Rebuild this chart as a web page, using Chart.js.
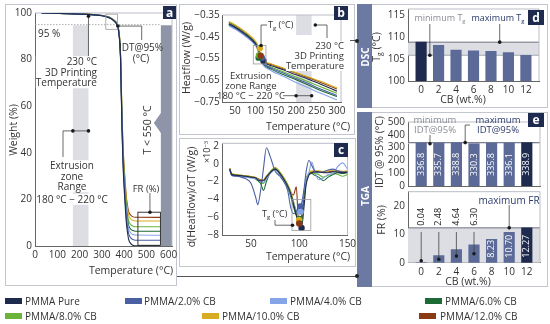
<!DOCTYPE html>
<html>
<head>
<meta charset="utf-8">
<title>PMMA / CB thermal analysis</title>
<script src="https://cdn.jsdelivr.net/npm/chart.js@4.4.1/dist/chart.umd.min.js"></script>
<style>
  body { margin:0; width:550px; height:324px; position:relative; overflow:hidden; background:#fff; font-family:'Open Sans', sans-serif; color:#333; }
  canvas { position:absolute; }
  .frame { position:absolute; border:1px solid #c2c6ce; box-sizing:border-box; }
  .tag { position:absolute; background:#1f2b4e; color:#fff; font-weight:bold; font-size:12px; line-height:13px; text-align:center; }
  .side { position:absolute; background:#6b79a3; }
  .note { position:absolute; white-space:nowrap; line-height:1.05; }
  sub { font-size:0.65em; vertical-align:-0.25em; line-height:0; }
  sup { font-size:0.65em; vertical-align:0.45em; line-height:0; }
  .lg { position:absolute; font-size:10px; white-space:nowrap; line-height:1; transform:translateY(-50%); }
  .sw { position:absolute; width:17px; height:6px; }
  .hl { position:absolute; height:1px; background:#555; }
  .pt { position:absolute; width:4px; height:4px; border-radius:2px; background:#222; }
</style>
</head>
<body>
<div class="frame" style="left:5px;top:4px;width:172px;height:282px"></div>
<div class="frame" style="left:179px;top:4px;width:176px;height:131px"></div>
<div class="frame" style="left:179px;top:138px;width:177px;height:129px"></div>
<div class="frame" style="left:357px;top:4px;width:191px;height:104px"></div>
<div class="frame" style="left:357px;top:112px;width:191px;height:175px"></div>
<div class="side" style="left:357px;top:4px;width:15px;height:104px"></div>
<div class="side" style="left:357px;top:112px;width:15px;height:175px"></div>
<div class="hl" style="left:350px;top:40px;width:7px"></div>
<div class="pt" style="left:355px;top:39px"></div>
<div class="hl" style="left:177px;top:276px;width:180px"></div>
<div class="pt" style="left:355px;top:274px"></div>

<canvas id="ca" width="185" height="282" style="left:5px;top:4px"></canvas>
<canvas id="cb" width="186" height="131" style="left:179px;top:4px"></canvas>
<canvas id="cc" width="186" height="137" style="left:179px;top:130px"></canvas>
<canvas id="cd" width="176" height="108" style="left:372px;top:0px"></canvas>
<canvas id="ce1" width="176" height="86" style="left:372px;top:110px"></canvas>
<canvas id="ce2" width="176" height="107" style="left:372px;top:180px"></canvas>

<div class="tag" style="left:163px;top:6px;width:13px;height:13px">a</div>
<div class="tag" style="left:334px;top:6px;width:14px;height:14px">b</div>
<div class="tag" style="left:334px;top:143px;width:14px;height:14px">c</div>
<div class="tag" style="left:528px;top:10px;width:16px;height:15px;line-height:15px">d</div>
<div class="tag" style="left:528px;top:113px;width:16px;height:14px;line-height:14px">e</div>

<script>
// ---- data ----
const series = ['PMMA Pure', 'PMMA/2.0% CB', 'PMMA/4.0% CB', 'PMMA/6.0% CB', 'PMMA/8.0% CB', 'PMMA/10.0% CB', 'PMMA/12.0% CB'];
const colors = ['#1f2b4e', '#4b60a3', '#86a4e8', '#1c6a36', '#6ab43c', '#d8ac22', '#8b3b13'];

// (a) TGA weight loss
const tgaTemp = [30, 150, 250, 300, 320, 340, 355, 367, 378, 384, 388, 392, 396, 400, 405, 410, 415, 420, 430, 440, 450, 562];
const tgaPure = [100, 99.7, 99.3, 98.8, 98.4, 97.6, 96.5, 95.0, 90.0, 80.0, 62.0, 45.0, 33.0, 25.0, 17.0, 10.0, 6.0, 3.0, 1.0, 0.3, 0.05, 0.04];
const tga2 = [100, 99.7, 99.3, 98.8, 98.4, 97.7, 96.6, 95.1, 90.3, 80.5, 62.9, 46.4, 34.7, 26.9, 19.1, 12.3, 8.4, 5.4, 3.5, 2.8, 2.5, 2.48];
const tga4 = [100, 99.7, 99.3, 98.9, 98.5, 97.7, 96.7, 95.2, 90.5, 80.9, 63.8, 47.6, 36.1, 28.5, 20.9, 14.2, 10.4, 7.5, 5.6, 4.9, 4.7, 4.64];
const tga6 = [100, 99.7, 99.3, 98.9, 98.5, 97.8, 96.7, 95.3, 90.6, 81.3, 64.4, 48.5, 37.2, 29.7, 22.2, 15.7, 11.9, 9.1, 7.2, 6.6, 6.35, 6.30];
const tga8 = [100, 99.7, 99.4, 98.9, 98.5, 97.8, 96.8, 95.4, 90.8, 81.7, 65.1, 49.5, 38.5, 31.2, 23.8, 17.4, 13.7, 11.0, 9.2, 8.5, 8.28, 8.23];
const tga10 = [100, 99.7, 99.4, 98.9, 98.6, 97.9, 96.9, 95.5, 91.1, 82.1, 66.1, 50.9, 40.2, 33.0, 25.9, 19.6, 16.1, 13.4, 11.6, 11.0, 10.74, 10.70];
const tga12 = [100, 99.7, 99.4, 99.0, 98.6, 97.9, 96.9, 95.6, 91.2, 82.5, 66.7, 51.8, 41.2, 34.2, 27.2, 21.0, 17.5, 14.9, 13.2, 12.5, 12.31, 12.27];

// (b) DSC heat flow
const dscTemp = [35, 50, 70, 90, 100, 105, 110, 115, 120, 140, 170, 200, 230, 260, 300];
const dscPure = [-0.39, -0.405, -0.43, -0.46, -0.48, -0.497, -0.525, -0.553, -0.567, -0.583, -0.603, -0.625, -0.645, -0.668, -0.70];
const dsc2 = [-0.395, -0.41, -0.435, -0.465, -0.485, -0.502, -0.532, -0.56, -0.575, -0.595, -0.618, -0.642, -0.665, -0.69, -0.72];
const dsc4 = [-0.40, -0.415, -0.44, -0.47, -0.49, -0.507, -0.537, -0.565, -0.583, -0.607, -0.633, -0.66, -0.685, -0.71, -0.74];
const dsc6 = [-0.392, -0.407, -0.433, -0.462, -0.483, -0.50, -0.53, -0.56, -0.578, -0.60, -0.625, -0.648, -0.672, -0.697, -0.725];
const dsc8 = [-0.386, -0.401, -0.428, -0.458, -0.478, -0.495, -0.525, -0.556, -0.572, -0.59, -0.612, -0.635, -0.657, -0.68, -0.71];
const dsc10 = [-0.38, -0.395, -0.42, -0.45, -0.47, -0.485, -0.515, -0.545, -0.56, -0.575, -0.595, -0.615, -0.635, -0.655, -0.685];
const dsc12 = [-0.383, -0.398, -0.423, -0.455, -0.475, -0.49, -0.52, -0.55, -0.563, -0.578, -0.598, -0.618, -0.638, -0.66, -0.69];
const dscTgT = [120, 116, 110, 108, 109, 111, 113];
const dscTgHF = [-0.561, -0.546, -0.54, -0.546, -0.535, -0.503, -0.537];

// (c) derivative of heat flow (x10^-3)
const dTemp = [28, 30, 35, 40, 45, 50, 55, 57, 60, 63, 66, 70, 75, 80, 85, 88, 91, 94, 97, 99, 101, 103, 105, 107, 110, 113, 116, 120, 125, 130, 135, 140, 145, 150];
const dPure = [-0.6, -1.2, -1.3, -1.35, -1.4, -1.5, -1.6, -1.8, -1.9, -1.9, -1.5, -1.0, -0.6, -1.1, -1.9, -2.5, -3.3, -4.5, -5.8, -6.7, -7.1, -6.8, -4.8, -2.5, -1.3, -1.0, -0.95, -0.9, -1.0, -1.0, -0.9, -0.95, -1.0, -0.9];
const d2 = [-0.6, -1.3, -1.4, -1.5, -1.7, -2.2, -3.8, -4.6, -3.0, -0.5, 1.8, 0.8, -0.8, -1.4, -2.2, -3.0, -4.8, -5.6, -5.4, -5.0, -4.8, -4.2, -2.8, -1.0, 0.4, -0.2, -0.8, -1.0, -0.9, -0.7, -0.6, -0.8, -0.9, -1.0];
const d4 = [-0.7, -1.3, -1.4, -1.45, -1.5, -1.6, -1.7, -1.8, -2.0, -2.1, -1.7, -1.1, -0.7, -1.2, -2.0, -2.6, -3.4, -4.4, -5.2, -5.5, -5.4, -4.5, -3.0, -1.8, -1.0, 0.2, -0.8, -1.8, -1.6, -1.2, -1.1, -0.3, 0.1, -0.6];
const d6 = [-0.6, -1.2, -1.3, -1.35, -1.45, -1.55, -1.7, -1.9, -2.2, -3.0, -2.0, -1.0, -0.6, -1.2, -2.0, -2.7, -3.6, -4.8, -5.8, -6.2, -6.3, -5.6, -3.5, -2.0, -1.2, -1.1, -1.3, -1.5, -1.9, -1.5, -1.2, -1.0, -1.1, -1.0];
const d8 = [-0.6, -1.2, -1.3, -1.35, -1.4, -1.5, -1.6, -1.75, -2.0, -2.2, -1.6, -0.9, -0.5, -1.0, -1.8, -2.4, -3.2, -4.3, -5.6, -6.3, -6.4, -5.5, -3.2, -1.8, -1.1, -1.0, -1.1, -1.2, -1.5, -1.3, -1.1, -1.2, -1.4, -1.2];
const d10 = [-0.5, -1.1, -1.2, -1.3, -1.35, -1.45, -1.55, -1.7, -1.85, -1.8, -1.4, -0.9, -0.4, -0.9, -1.7, -2.3, -3.0, -4.2, -5.4, -6.1, -6.3, -5.8, -3.8, -1.9, -1.0, -0.8, -0.75, -0.8, -0.85, -0.8, -0.75, -0.8, -0.85, -0.8];
const d12 = [-0.5, -1.1, -1.25, -1.3, -1.35, -1.45, -1.55, -1.65, -1.8, -1.8, -1.4, -0.9, -0.5, -1.0, -1.8, -2.4, -3.2, -3.5, -2.6, -6.2, -6.7, -6.0, -4.0, -2.0, -1.1, -0.9, -0.85, -0.9, -0.95, -0.9, -0.85, -0.9, -0.95, -0.9];
const dTgT = [102.4, 101, 101.5, 100.5, 100, 99.8, 100];
const dTgV = [-7.2, -4.8, -5.4, -6.2, -6.4, -6.3, -6.7];

// (d) and (e) bars
const cbWt = [0, 2, 4, 6, 8, 10, 12];
const tgDsc = [108.9, 108.2, 107.1, 106.9, 106.8, 106.5, 105.9];
const idt95 = [336.8, 335.7, 338.8, 330.3, 335.8, 336.1, 338.9];
const frRes = [0.04, 2.48, 4.64, 6.30, 8.23, 10.70, 12.27];

// tick labels
const aTicksX = [0, 100, 200, 300, 400, 500, 600];
const aTicksY = [0, 20, 40, 60, 80, 100];
const bTicksX = [50, 100, 150, 200, 250, 300];
const bTicksY = [-0.75, -0.65, -0.55, -0.45, -0.35];
const cTicksX = [50, 100, 150];
const cTicksY = [-8, -6, -4, -2, 0, 2];
const dTicksY = [100, 105, 110, 115];
const idtTicksY = [0, 100, 200, 300, 400, 500];
const frTicksY = [0, 10, 20];

// ---- helpers ----
Chart.defaults.font.family = "'Open Sans', sans-serif";
Chart.defaults.font.size = 10;
Chart.defaults.color = '#333';

const NAVY = '#1f2b4e', SLATE = '#5b6a97', BAND = '#dcdee4';
const minus = v => (v < 0 ? '\u2212' : '') + Math.abs(v);

function scale(min, max, ticks, fit, fmt, show) {
  return {
    type: 'linear', min: min, max: max, offset: false,
    grid: { display: false, drawTicks: false },
    border: { color: '#666', width: 1 },
    ticks: { display: show !== false, padding: 3, autoSkip: false, maxRotation: 0, minRotation: 0,
             callback: fmt || (v => v) },
    afterBuildTicks: s => { s.ticks = ticks.map(v => ({ value: v })); },
    afterFit: s => { if (s.isHorizontal()) s.height = fit; else s.width = fit; }
  };
}
function seg(ctx, pts, color, w, dash) {
  ctx.save();
  ctx.beginPath();
  ctx.strokeStyle = color || '#444';
  ctx.lineWidth = w || 0.8;
  ctx.setLineDash(dash || []);
  pts.forEach((p, i) => i ? ctx.lineTo(p[0], p[1]) : ctx.moveTo(p[0], p[1]));
  ctx.stroke();
  ctx.restore();
}
function dot(ctx, x, y, r, color) {
  ctx.beginPath();
  ctx.arc(x, y, r || 1.8, 0, Math.PI * 2);
  ctx.fillStyle = color || '#1a1a1a';
  ctx.fill();
}
function px(c) {
  return { X: v => c.scales.x.getPixelForValue(v), Y: v => c.scales.y.getPixelForValue(v), a: c.chartArea, ctx: c.ctx };
}
function boxTR(c) {
  const a = c.chartArea;
  seg(c.ctx, [[a.left, a.top], [a.right, a.top], [a.right, a.bottom]], '#b9bdc6', 1);
}
function lineSet(xs, ys, i) {
  return { data: xs.map((t, j) => ({ x: t, y: ys[j] })), borderColor: colors[i], borderWidth: 1.1,
           pointRadius: 0, cubicInterpolationMode: 'monotone' };
}
function dotSet(xs, ys) {
  return { type: 'scatter', data: xs.map((t, j) => ({ x: t, y: ys[j] })), pointBackgroundColor: colors,
           pointBorderWidth: 0, pointRadius: 3.2, showLine: false };
}
function barLabels(c, vals, idx, fmt, mode, off, color) {
  const meta = c.getDatasetMeta(0), ctx = c.ctx;
  ctx.save();
  ctx.fillStyle = color || '#fff';
  ctx.font = "9px 'Open Sans'";
  ctx.textBaseline = 'middle';
  idx.forEach(i => {
    const b = meta.data[i];
    ctx.save();
    ctx.translate(b.x, mode === 'center' ? (b.y + b.base) / 2 : b.base - off);
    ctx.rotate(-Math.PI / 2);
    ctx.textAlign = mode === 'center' ? 'center' : 'left';
    ctx.fillText(fmt(vals[i]), 0, 0);
    ctx.restore();
  });
  ctx.restore();
}
const base = { responsive: false, animation: false, events: [], plugins: { legend: { display: false }, tooltip: { enabled: false } } };

// ---- (a) TGA ----
const aNotes = {
  id: 'aNotes',
  beforeDatasetsDraw(c) {
    const { X, Y, a, ctx } = px(c), oy = 4;
    ctx.save();
    ctx.fillStyle = BAND;
    ctx.fillRect(X(170), Y(94.7), X(240) - X(170), Y(0) - Y(94.7));
    const bx = X(565);
    ctx.fillStyle = '#8e95a8';
    ctx.beginPath();
    ctx.moveTo(bx, Y(94.7)); ctx.lineTo(a.right, Y(94.7)); ctx.lineTo(a.right, a.bottom); ctx.lineTo(bx, a.bottom);
    ctx.lineTo(bx, 133 - oy); ctx.lineTo(bx - 7, 123 - oy); ctx.lineTo(bx, 113 - oy);
    ctx.closePath(); ctx.fill();
    ctx.restore();
    boxTR(c);
    seg(ctx, [[X(0), Y(95)], [X(565), Y(95)]], '#9a9a9a', 0.8, [1.5, 1.5]);
  },
  afterDatasetsDraw(c) {
    const { X, Y, ctx } = px(c), ox = 5, oy = 4;
    ctx.save();
    ctx.strokeStyle = '#9a9a9a'; ctx.lineWidth = 0.8;
    ctx.strokeRect(X(318), Y(99.5), X(370) - X(318), Y(93) - Y(99.5));
    ctx.restore();
    seg(ctx, [[X(372), Y(94.4)], [141.7 - ox, Y(94.4)], [141.7 - ox, 40 - oy]]);
    dot(ctx, X(372), Y(94.4));
    seg(ctx, [[X(240), Y(98.6)], [X(240), 56 - oy]]);
    dot(ctx, X(240), Y(98.6));
    const ey = Y(49.4);
    seg(ctx, [[63 - ox, 157 - oy], [63 - ox, ey], [X(240), ey]]);
    dot(ctx, X(170), ey); dot(ctx, X(240), ey);
    ctx.save();
    ctx.strokeStyle = '#222'; ctx.lineWidth = 0.9;
    ctx.strokeRect(X(462), Y(14.5), X(563) - X(462), Y(0.3) - Y(14.5));
    ctx.restore();
    seg(ctx, [[X(516), 193 - oy], [X(516), Y(14.5)]]);
    dot(ctx, X(516), Y(14.5));
  }
};
new Chart(document.getElementById('ca'), {
  type: 'line',
  data: { datasets: [tgaPure, tga2, tga4, tga6, tga8, tga10, tga12].map((w, i) => lineSet(tgaTemp, w, i)) },
  options: Object.assign({}, base, {
    layout: { padding: { left: 0, right: 18, top: 8.7, bottom: 0 } },
    scales: { x: scale(0, 615, aTicksX, 40), y: scale(0, 100, aTicksY, 30) }
  }),
  plugins: [aNotes]
});

// ---- (b) DSC heat flow ----
const bNotes = {
  id: 'bNotes',
  beforeDatasetsDraw(c) {
    const { X, a, ctx } = px(c), oy = 4;
    ctx.save();
    ctx.fillStyle = BAND;
    ctx.fillRect(X(200), a.top, X(238) - X(200), 35 - oy - a.top);
    ctx.fillRect(X(200), 70 - oy, X(238) - X(200), a.bottom - (70 - oy));
    ctx.restore();
    boxTR(c);
  },
  afterDatasetsDraw(c) {
    const { X, Y, ctx } = px(c), ox = 179, oy = 4;
    ctx.save();
    ctx.strokeStyle = '#9a9a9a'; ctx.lineWidth = 0.8;
    ctx.strokeRect(X(95), Y(-0.49), X(126) - X(95), Y(-0.575) - Y(-0.49));
    ctx.restore();
    seg(ctx, [[X(114), Y(-0.49)], [X(114), 25 - oy], [267 - ox, 25 - oy]]);
    dot(ctx, X(114), Y(-0.49));
    seg(ctx, [[X(247), 25 - oy], [327 - ox, 25 - oy], [327 - ox, 38 - oy]]);
    dot(ctx, X(247), 25 - oy);
    seg(ctx, [[283 - ox, 95.7 - oy], [X(238), 95.7 - oy]]);
    dot(ctx, X(200), 95.7 - oy); dot(ctx, X(238), 95.7 - oy);
  }
};
new Chart(document.getElementById('cb'), {
  type: 'line',
  data: { datasets: [dotSet(dscTgT, dscTgHF)].concat([dscPure, dsc2, dsc4, dsc6, dsc8, dsc10, dsc12].map((v, i) => lineSet(dscTemp, v, i))) },
  options: Object.assign({}, base, {
    layout: { padding: { left: 0, right: 24, top: 11, bottom: 0 } },
    scales: { x: scale(20, 310, bTicksX, 33), y: scale(-0.75, -0.35, bTicksY, 43.7, v => (v < 0 ? '\u2212' : '') + Math.abs(v).toFixed(2)) }
  }),
  plugins: [bNotes]
});

// ---- (c) derivative ----
const cNotes = {
  id: 'cNotes',
  beforeDatasetsDraw(c) { boxTR(c); },
  afterDatasetsDraw(c) {
    const { X, Y, ctx } = px(c), ox = 179, oy = 130;
    ctx.save();
    ctx.strokeStyle = '#9a9a9a'; ctx.lineWidth = 0.8;
    ctx.strokeRect(X(92.5), Y(-4.0), X(112) - X(92.5), Y(-7.5) - Y(-4.0));
    ctx.restore();
    seg(ctx, [[X(93), Y(-6.9)], [275 - ox, Y(-6.9)], [275 - ox, 220 - oy]]);
    dot(ctx, X(93), Y(-6.9));
  }
};
new Chart(document.getElementById('cc'), {
  type: 'line',
  data: { datasets: [dotSet(dTgT, dTgV)].concat([dPure, d2, d4, d6, d8, d10, d12].map((v, i) => lineSet(dTemp, v, i))) },
  options: Object.assign({}, base, {
    layout: { padding: { left: 0, right: 17.5, top: 13.3, bottom: 0 } },
    scales: { x: scale(20, 150, cTicksX, 32), y: scale(-8, 2.3, cTicksY, 43, minus) }
  }),
  plugins: [cNotes]
});

// ---- bar panels ----
function hiColors(vals) {
  const m = vals.indexOf(Math.max.apply(null, vals));
  return vals.map((v, i) => i === m ? NAVY : SLATE);
}
function barSet(vals) {
  return { data: cbWt.map((w, i) => ({ x: w, y: vals[i] })), backgroundColor: hiColors(vals), barThickness: 10.5 };
}
function bandUnder(lo, hi, edgeLo) {
  return {
    id: 'band',
    beforeDatasetsDraw(c) {
      const { Y, a, ctx } = px(c);
      ctx.save();
      ctx.fillStyle = BAND;
      ctx.fillRect(a.left, Y(hi), a.width, Y(lo) - Y(hi));
      ctx.restore();
      seg(ctx, [[a.left, Y(hi)], [a.right, Y(hi)]], '#6f7380', 1);
      if (edgeLo) seg(ctx, [[a.left, Y(lo)], [a.right, Y(lo)]], '#a5a8b0', 1);
      boxTR(c);
    }
  };
}

// (d) Tg
new Chart(document.getElementById('cd'), {
  type: 'bar',
  data: { datasets: [barSet(tgDsc)] },
  options: Object.assign({}, base, {
    layout: { padding: { left: 0, right: 9, top: 8.3, bottom: 0 } },
    scales: { x: scale(-1.5, 13.5, cbWt, 27), y: scale(100, 116.5, dTicksY, 36) }
  }),
  plugins: [bandUnder(Math.min.apply(null, tgDsc), Math.max.apply(null, tgDsc), true), {
    id: 'dNotes',
    afterDatasetsDraw(c) {
      const { X, Y, ctx } = px(c);
      barLabels(c, tgDsc, [0, 1, 2, 3, 4, 5, 6], v => v.toFixed(1), 'bottom', 4);
      seg(ctx, [[X(1), Y(105.9)], [X(1), 24]]); dot(ctx, X(1), Y(105.9));
      seg(ctx, [[X(9), Y(108.9)], [X(9), 24]]); dot(ctx, X(9), Y(108.9));
    }
  }]
});

// (e) IDT@95%
new Chart(document.getElementById('ce1'), {
  type: 'bar',
  data: { datasets: [barSet(idt95)] },
  options: Object.assign({}, base, {
    layout: { padding: { left: 0, right: 8, top: 12, bottom: 0 } },
    scales: { x: scale(-1.5, 13.5, cbWt, 10, null, false), y: scale(0, 500, idtTicksY, 36) }
  }),
  plugins: [bandUnder(Math.min.apply(null, idt95), Math.max.apply(null, idt95), false), {
    id: 'e1Notes',
    afterDatasetsDraw(c) {
      const { X, Y, ctx } = px(c), ox = 372, oy = 110;
      barLabels(c, idt95, [0, 1, 2, 3, 4, 5, 6], v => v.toFixed(1), 'center', 0);
      seg(ctx, [[X(1), Y(330.3)], [X(1), 135 - oy]]); dot(ctx, X(1), Y(330.3));
      seg(ctx, [[X(5), Y(338.9)], [X(5), 125 - oy], [470 - ox, 125 - oy]]); dot(ctx, X(5), Y(338.9));
    }
  }]
});

// (e) FR
new Chart(document.getElementById('ce2'), {
  type: 'bar',
  data: { datasets: [barSet(frRes)] },
  options: Object.assign({}, base, {
    layout: { padding: { left: 0, right: 8, top: 11.7, bottom: 0 } },
    scales: { x: scale(-1.5, 13.5, cbWt, 24.3), y: scale(0, 25, frTicksY, 36) }
  }),
  plugins: [bandUnder(0, Math.max.apply(null, frRes), false), {
    id: 'e2Notes',
    afterDatasetsDraw(c) {
      const { X, Y, ctx } = px(c);
      barLabels(c, frRes, [4, 5, 6], v => v.toFixed(2), 'bottom', 5);
      ctx.save();
      ctx.fillStyle = '#222';
      ctx.font = "9px 'Open Sans'";
      ctx.textBaseline = 'middle';
      ctx.textAlign = 'right';
      [0, 1, 2, 3].forEach(i => {
        const x = X(cbWt[i]), yd = Y(Math.max(frRes[i] / 2, 0.7));
        seg(ctx, [[x, yd], [x, Y(10.8)]]);
        dot(ctx, x, yd);
        ctx.save(); ctx.translate(x, Y(19.3)); ctx.rotate(-Math.PI / 2);
        ctx.fillText(frRes[i].toFixed(2), 0, 0); ctx.restore();
      });
      ctx.restore();
      seg(ctx, [[X(10), Y(12.27)], [X(10), 205 - 180]]); dot(ctx, X(10), Y(12.27));
    }
  }]
});

// ---- text annotations (page coordinates) ----
// [html, x, y, size, anchor, color, rotated, white background]
const notes = [
  ['Weight (%)', 14, 130, 10.5, 'c', '#333', 1],
  ['Temperature (°C)', 131, 271, 10.5, 'c'],
  ['95 %', 38, 33, 10, 'l'],
  ['230 °C<br>3D Printing<br>Temperature', 97, 72, 10, 'r', '#333', 0, 1],
  ['Extrusion<br>zone<br>Range', 72, 176, 10, 'c', '#333', 0, 1],
  ['180 °C \u2212 220 °C', 72, 199, 10, 'c', '#333', 0, 1],
  ['IDT@95%<br>(°C)', 141, 52, 10, 'c'],
  ['FR (%)', 146, 188.5, 9.5, 'c'],
  ['T &lt; 550 °C', 147.5, 130, 10.5, 'c', '#333', 1],
  ['Heatflow (W/g)', 187, 58, 10.5, 'c', '#333', 1],
  ['Temperature (°C)', 308, 127, 10.5, 'c'],
  ['T<sub>g</sub> (°C)', 268, 25, 9, 'l'],
  ['230 °C<br>3D Printing<br>Temperature', 344, 56, 9.5, 'r', '#333', 0, 1],
  ['Extrusion<br>zone Range<br>180 °C \u2212 220 °C', 251, 86, 9.5, 'c'],
  ['d(Heatflow)/dT (W/g)', 192, 197, 10.5, 'c', '#333', 1],
  ['×10<sup>\u22123</sup>', 206.5, 152, 9, 'c', '#333', 1],
  ['Temperature (°C)', 308, 257, 10.5, 'c'],
  ['T<sub>g</sub> (°C)', 262, 214, 9, 'l'],
  ['DSC', 364.5, 57, 10, 'c', '#fff', 1],
  ['TGA', 364.5, 196, 10, 'c', '#fff', 1],
  ['T<sub>g</sub> (°C)', 377, 47, 10.5, 'c', '#333', 1],
  ['minimum T<sub>g</sub>', 440, 18, 9, 'c', '#8a8d96'],
  ['maximum T<sub>g</sub>', 498, 18, 9, 'c', '#2b3a6b'],
  ['CB (wt.%)', 463, 100, 10.5, 'c'],
  ['IDT @ 95% (°C)', 380, 152, 10.5, 'c', '#333', 1],
  ['minimum<br>IDT@95%', 435, 125, 9.5, 'c', '#8a8d96'],
  ['maximum<br>IDT@95%', 498, 125, 9.5, 'c', '#2b3a6b'],
  ['FR (%)', 381.5, 220, 10.5, 'c', '#333', 1],
  ['maximum FR', 509, 200, 10, 'c', '#2b3a6b'],
  ['CB (wt.%)', 468, 282, 10.5, 'c']
];
notes.forEach(n => {
  const d = document.createElement('div');
  d.className = 'note';
  d.innerHTML = n[0];
  d.style.left = n[1] + 'px';
  d.style.top = n[2] + 'px';
  d.style.fontSize = n[3] + 'px';
  d.style.color = n[5] || '#333';
  d.style.textAlign = n[4] === 'r' ? 'right' : (n[4] === 'l' ? 'left' : 'center');
  if (n[5] === '#fff') d.style.fontWeight = 'bold';
  if (n[7]) d.style.background = '#fff';
  const tr = n[4] === 'r' ? 'translate(-100%,-50%)' : (n[4] === 'l' ? 'translate(0,-50%)' : 'translate(-50%,-50%)');
  d.style.transform = tr + (n[6] ? ' rotate(-90deg)' : '');
  document.body.appendChild(d);
});

// ---- legend ----
const legendPos = [[5, 25, 300.5], [125, 144, 300.5], [270, 290, 300.5], [425, 445, 300.5], [5, 25, 316], [202, 222, 316], [419, 440, 316]];
series.forEach((s, i) => {
  const p = legendPos[i];
  const sw = document.createElement('div');
  sw.className = 'sw';
  sw.style.left = p[0] + 'px';
  sw.style.top = (p[2] - 3) + 'px';
  sw.style.background = colors[i];
  document.body.appendChild(sw);
  const t = document.createElement('div');
  t.className = 'lg';
  t.style.left = p[1] + 'px';
  t.style.top = p[2] + 'px';
  t.textContent = s;
  document.body.appendChild(t);
});
</script>
</body>
</html>
